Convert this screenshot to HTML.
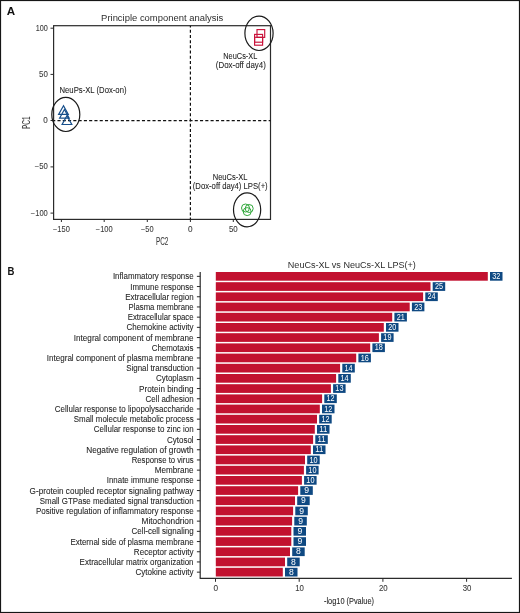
<!DOCTYPE html><html><head><meta charset="utf-8"><style>
html,body{margin:0;padding:0;background:#fff;}
svg{display:block;}
text{font-family:"Liberation Sans", sans-serif;}
.t{stroke-width:0.08px;}
.w{stroke-width:0.15px;}
</style></head><body>
<div style="will-change:transform;width:520px;height:613px">
<svg width="520" height="613" viewBox="0 0 520 613">
<rect x="0" y="0" width="520" height="613" fill="#fff"/>
<rect x="0.5" y="0.5" width="519" height="612" fill="none" stroke="#161616" stroke-width="1.2"/>
<text x="6.80" y="14.70" font-size="11.6" fill="#111" font-weight="bold">A</text>
<text x="101.10" y="20.80" font-size="9.7" fill="#2e2e2e" textLength="122.20" lengthAdjust="spacingAndGlyphs">Principle component analysis</text>
<rect x="53.6" y="25.7" width="216.9" height="193.7" fill="none" stroke="#2b2b2b" stroke-width="1.2"/>
<line x1="190.4" y1="25.7" x2="190.4" y2="219.4" stroke="#111" stroke-width="1.2" stroke-dasharray="3.0 2.22" stroke-dashoffset="1.22"/>
<line x1="53.6" y1="120.6" x2="270.5" y2="120.6" stroke="#111" stroke-width="1.2" stroke-dasharray="3.1 2.18" stroke-dashoffset="1.43"/>
<line x1="50.5" y1="28.2" x2="53.6" y2="28.2" stroke="#2b2b2b" stroke-width="1"/>
<text x="47.80" y="30.60" font-size="8.2" fill="#3a3a3a" text-anchor="end" textLength="12.10" lengthAdjust="spacingAndGlyphs" class="t" stroke="#3a3a3a">100</text>
<line x1="50.5" y1="74.4" x2="53.6" y2="74.4" stroke="#2b2b2b" stroke-width="1"/>
<text x="47.80" y="76.80" font-size="8.2" fill="#3a3a3a" text-anchor="end" textLength="8.80" lengthAdjust="spacingAndGlyphs" class="t" stroke="#3a3a3a">50</text>
<line x1="50.5" y1="120.5" x2="53.6" y2="120.5" stroke="#2b2b2b" stroke-width="1"/>
<text x="47.80" y="122.90" font-size="8.2" fill="#3a3a3a" text-anchor="end" textLength="4.50" lengthAdjust="spacingAndGlyphs" class="t" stroke="#3a3a3a">0</text>
<line x1="50.5" y1="166.9" x2="53.6" y2="166.9" stroke="#2b2b2b" stroke-width="1"/>
<text x="47.80" y="169.30" font-size="8.2" fill="#3a3a3a" text-anchor="end" textLength="13.10" lengthAdjust="spacingAndGlyphs" class="t" stroke="#3a3a3a">−50</text>
<line x1="50.5" y1="213.1" x2="53.6" y2="213.1" stroke="#2b2b2b" stroke-width="1"/>
<text x="47.80" y="215.50" font-size="8.2" fill="#3a3a3a" text-anchor="end" textLength="17.00" lengthAdjust="spacingAndGlyphs" class="t" stroke="#3a3a3a">−100</text>
<line x1="61.4" y1="219.4" x2="61.4" y2="222" stroke="#2b2b2b" stroke-width="1"/>
<text x="61.40" y="231.70" font-size="8.2" fill="#3a3a3a" text-anchor="middle" textLength="16.90" lengthAdjust="spacingAndGlyphs" class="t" stroke="#3a3a3a">−150</text>
<line x1="104.2" y1="219.4" x2="104.2" y2="222" stroke="#2b2b2b" stroke-width="1"/>
<text x="104.20" y="231.70" font-size="8.2" fill="#3a3a3a" text-anchor="middle" textLength="16.90" lengthAdjust="spacingAndGlyphs" class="t" stroke="#3a3a3a">−100</text>
<line x1="147.3" y1="219.4" x2="147.3" y2="222" stroke="#2b2b2b" stroke-width="1"/>
<text x="147.30" y="231.70" font-size="8.2" fill="#3a3a3a" text-anchor="middle" textLength="12.60" lengthAdjust="spacingAndGlyphs" class="t" stroke="#3a3a3a">−50</text>
<line x1="190.4" y1="219.4" x2="190.4" y2="222" stroke="#2b2b2b" stroke-width="1"/>
<text x="190.40" y="231.70" font-size="8.2" fill="#3a3a3a" text-anchor="middle" textLength="4.60" lengthAdjust="spacingAndGlyphs" class="t" stroke="#3a3a3a">0</text>
<line x1="233.3" y1="219.4" x2="233.3" y2="222" stroke="#2b2b2b" stroke-width="1"/>
<text x="233.30" y="231.70" font-size="8.2" fill="#3a3a3a" text-anchor="middle" textLength="8.80" lengthAdjust="spacingAndGlyphs" class="t" stroke="#3a3a3a">50</text>
<text x="162.10" y="244.80" font-size="10" fill="#3a3a3a" text-anchor="middle" textLength="12.40" lengthAdjust="spacingAndGlyphs" class="t" stroke="#3a3a3a">PC2</text>
<g transform="translate(29.9 122.7) rotate(-90)">
<text x="0.00" y="0.00" font-size="10" fill="#3a3a3a" text-anchor="middle" textLength="12.60" lengthAdjust="spacingAndGlyphs" class="t" stroke="#3a3a3a">PC1</text>
</g>
<text x="59.50" y="93.20" font-size="8.4" fill="#262626" textLength="67.00" lengthAdjust="spacingAndGlyphs" class="t" stroke="#262626">NeuPs-XL (Dox-on)</text>
<text x="223.30" y="59.20" font-size="8.4" fill="#262626" textLength="34.00" lengthAdjust="spacingAndGlyphs" class="t" stroke="#262626">NeuCs-XL</text>
<text x="215.80" y="68.20" font-size="8.4" fill="#262626" textLength="50.00" lengthAdjust="spacingAndGlyphs" class="t" stroke="#262626">(Dox-off day4)</text>
<text x="212.70" y="179.80" font-size="8.4" fill="#262626" textLength="34.90" lengthAdjust="spacingAndGlyphs" class="t" stroke="#262626">NeuCs-XL</text>
<text x="192.80" y="188.50" font-size="8.4" fill="#262626" textLength="74.90" lengthAdjust="spacingAndGlyphs" class="t" stroke="#262626">(Dox-off day4) LPS(+)</text>
<ellipse cx="65.8" cy="114.4" rx="14.0" ry="17.1" fill="none" stroke="#1a1a1a" stroke-width="1.2"/>
<ellipse cx="259.0" cy="33.3" rx="14.1" ry="17.2" fill="none" stroke="#1a1a1a" stroke-width="1.2"/>
<ellipse cx="247.1" cy="209.8" rx="13.6" ry="17.0" fill="none" stroke="#1a1a1a" stroke-width="1.2"/>
<path d="M63.5 105.7 L58.6 114.4 L68.3 114.4 Z" fill="none" stroke="#18508c" stroke-width="1.2" stroke-linejoin="miter"/>
<path d="M64.4 109.5 L59.6 118.2 L69.2 118.2 Z" fill="none" stroke="#18508c" stroke-width="1.2" stroke-linejoin="miter"/>
<path d="M66.9 115.8 L62.1 124.5 L71.8 124.5 Z" fill="none" stroke="#18508c" stroke-width="1.2" stroke-linejoin="miter"/>
<rect x="257.0" y="29.6" width="7.7" height="7.8" fill="none" stroke="#c9123a" stroke-width="1.15"/>
<rect x="254.6" y="34.4" width="8.0" height="7.8" fill="none" stroke="#c9123a" stroke-width="1.15"/>
<rect x="254.6" y="37.3" width="8.0" height="7.9" fill="none" stroke="#c9123a" stroke-width="1.15"/>
<circle cx="245.5" cy="208.0" r="4.0" fill="none" stroke="#31a83b" stroke-width="1"/>
<circle cx="249.2" cy="208.5" r="4.0" fill="none" stroke="#31a83b" stroke-width="1"/>
<circle cx="247.2" cy="211.6" r="4.0" fill="none" stroke="#31a83b" stroke-width="1"/>
<text x="7.60" y="275.40" font-size="11.6" fill="#111" textLength="6.90" lengthAdjust="spacingAndGlyphs" font-weight="bold">B</text>
<text x="287.80" y="267.60" font-size="9.7" fill="#2e2e2e" textLength="128.10" lengthAdjust="spacingAndGlyphs">NeuCs-XL vs NeuCs-XL LPS(+)</text>
<line x1="200.2" y1="272.0" x2="200.2" y2="578.3" stroke="#2b2b2b" stroke-width="1.2"/>
<line x1="199.7" y1="578.3" x2="511.9" y2="578.3" stroke="#2b2b2b" stroke-width="1.2"/>
<rect x="215.8" y="272.00" width="272.00" height="8.70" fill="#c2112f"/>
<rect x="490.00" y="272.00" width="12.5" height="8.70" fill="#0f4982"/>
<text x="496.30" y="279.00" font-size="8.6" fill="#fff" text-anchor="middle" textLength="8.10" lengthAdjust="spacingAndGlyphs">32</text>
<line x1="196.9" y1="276.35" x2="200.2" y2="276.35" stroke="#2b2b2b" stroke-width="1"/>
<text x="112.90" y="279.40" font-size="8.5" fill="#262626" textLength="80.70" lengthAdjust="spacingAndGlyphs" class="t" stroke="#262626">Inflammatory response</text>
<rect x="215.8" y="282.20" width="214.70" height="8.70" fill="#c2112f"/>
<rect x="432.70" y="282.20" width="12.5" height="8.70" fill="#0f4982"/>
<text x="439.00" y="289.20" font-size="8.6" fill="#fff" text-anchor="middle" textLength="8.10" lengthAdjust="spacingAndGlyphs">25</text>
<line x1="196.9" y1="286.55" x2="200.2" y2="286.55" stroke="#2b2b2b" stroke-width="1"/>
<text x="130.20" y="289.60" font-size="8.5" fill="#262626" textLength="63.40" lengthAdjust="spacingAndGlyphs" class="t" stroke="#262626">Immune response</text>
<rect x="215.8" y="292.40" width="207.30" height="8.70" fill="#c2112f"/>
<rect x="425.30" y="292.40" width="12.5" height="8.70" fill="#0f4982"/>
<text x="431.60" y="299.40" font-size="8.6" fill="#fff" text-anchor="middle" textLength="8.10" lengthAdjust="spacingAndGlyphs">24</text>
<line x1="196.9" y1="296.75" x2="200.2" y2="296.75" stroke="#2b2b2b" stroke-width="1"/>
<text x="125.20" y="299.80" font-size="8.5" fill="#262626" textLength="68.40" lengthAdjust="spacingAndGlyphs" class="t" stroke="#262626">Extracellular region</text>
<rect x="215.8" y="302.60" width="193.90" height="8.70" fill="#c2112f"/>
<rect x="411.90" y="302.60" width="12.5" height="8.70" fill="#0f4982"/>
<text x="418.20" y="309.60" font-size="8.6" fill="#fff" text-anchor="middle" textLength="8.10" lengthAdjust="spacingAndGlyphs">23</text>
<line x1="196.9" y1="306.95" x2="200.2" y2="306.95" stroke="#2b2b2b" stroke-width="1"/>
<text x="128.60" y="310.00" font-size="8.5" fill="#262626" textLength="65.00" lengthAdjust="spacingAndGlyphs" class="t" stroke="#262626">Plasma membrane</text>
<rect x="215.8" y="312.80" width="176.40" height="8.70" fill="#c2112f"/>
<rect x="394.40" y="312.80" width="12.5" height="8.70" fill="#0f4982"/>
<text x="400.70" y="319.80" font-size="8.6" fill="#fff" text-anchor="middle" textLength="8.10" lengthAdjust="spacingAndGlyphs">21</text>
<line x1="196.9" y1="317.15" x2="200.2" y2="317.15" stroke="#2b2b2b" stroke-width="1"/>
<text x="127.70" y="320.20" font-size="8.5" fill="#262626" textLength="65.90" lengthAdjust="spacingAndGlyphs" class="t" stroke="#262626">Extracellular space</text>
<rect x="215.8" y="323.00" width="168.00" height="8.70" fill="#c2112f"/>
<rect x="386.00" y="323.00" width="12.5" height="8.70" fill="#0f4982"/>
<text x="392.30" y="330.00" font-size="8.6" fill="#fff" text-anchor="middle" textLength="8.10" lengthAdjust="spacingAndGlyphs">20</text>
<line x1="196.9" y1="327.35" x2="200.2" y2="327.35" stroke="#2b2b2b" stroke-width="1"/>
<text x="126.50" y="330.40" font-size="8.5" fill="#262626" textLength="67.10" lengthAdjust="spacingAndGlyphs" class="t" stroke="#262626">Chemokine activity</text>
<rect x="215.8" y="333.20" width="163.10" height="8.70" fill="#c2112f"/>
<rect x="381.10" y="333.20" width="12.5" height="8.70" fill="#0f4982"/>
<text x="387.40" y="340.20" font-size="8.6" fill="#fff" text-anchor="middle" textLength="8.10" lengthAdjust="spacingAndGlyphs">19</text>
<line x1="196.9" y1="337.55" x2="200.2" y2="337.55" stroke="#2b2b2b" stroke-width="1"/>
<text x="73.80" y="340.60" font-size="8.5" fill="#262626" textLength="119.80" lengthAdjust="spacingAndGlyphs" class="t" stroke="#262626">Integral component of membrane</text>
<rect x="215.8" y="343.40" width="154.40" height="8.70" fill="#c2112f"/>
<rect x="372.40" y="343.40" width="12.5" height="8.70" fill="#0f4982"/>
<text x="378.70" y="350.40" font-size="8.6" fill="#fff" text-anchor="middle" textLength="8.10" lengthAdjust="spacingAndGlyphs">18</text>
<line x1="196.9" y1="347.75" x2="200.2" y2="347.75" stroke="#2b2b2b" stroke-width="1"/>
<text x="151.70" y="350.80" font-size="8.5" fill="#262626" textLength="41.90" lengthAdjust="spacingAndGlyphs" class="t" stroke="#262626">Chemotaxis</text>
<rect x="215.8" y="353.60" width="140.40" height="8.70" fill="#c2112f"/>
<rect x="358.40" y="353.60" width="12.5" height="8.70" fill="#0f4982"/>
<text x="364.70" y="360.60" font-size="8.6" fill="#fff" text-anchor="middle" textLength="8.10" lengthAdjust="spacingAndGlyphs">16</text>
<line x1="196.9" y1="357.95" x2="200.2" y2="357.95" stroke="#2b2b2b" stroke-width="1"/>
<text x="46.80" y="361.00" font-size="8.5" fill="#262626" textLength="146.80" lengthAdjust="spacingAndGlyphs" class="t" stroke="#262626">Integral component of plasma membrane</text>
<rect x="215.8" y="363.80" width="124.30" height="8.70" fill="#c2112f"/>
<rect x="342.30" y="363.80" width="12.5" height="8.70" fill="#0f4982"/>
<text x="348.60" y="370.80" font-size="8.6" fill="#fff" text-anchor="middle" textLength="8.10" lengthAdjust="spacingAndGlyphs">14</text>
<line x1="196.9" y1="368.15" x2="200.2" y2="368.15" stroke="#2b2b2b" stroke-width="1"/>
<text x="126.20" y="371.20" font-size="8.5" fill="#262626" textLength="67.40" lengthAdjust="spacingAndGlyphs" class="t" stroke="#262626">Signal transduction</text>
<rect x="215.8" y="374.00" width="120.30" height="8.70" fill="#c2112f"/>
<rect x="338.30" y="374.00" width="12.5" height="8.70" fill="#0f4982"/>
<text x="344.60" y="381.00" font-size="8.6" fill="#fff" text-anchor="middle" textLength="8.10" lengthAdjust="spacingAndGlyphs">14</text>
<line x1="196.9" y1="378.35" x2="200.2" y2="378.35" stroke="#2b2b2b" stroke-width="1"/>
<text x="156.00" y="381.40" font-size="8.5" fill="#262626" textLength="37.60" lengthAdjust="spacingAndGlyphs" class="t" stroke="#262626">Cytoplasm</text>
<rect x="215.8" y="384.20" width="115.10" height="8.70" fill="#c2112f"/>
<rect x="333.10" y="384.20" width="12.5" height="8.70" fill="#0f4982"/>
<text x="339.40" y="391.20" font-size="8.6" fill="#fff" text-anchor="middle" textLength="8.10" lengthAdjust="spacingAndGlyphs">13</text>
<line x1="196.9" y1="388.55" x2="200.2" y2="388.55" stroke="#2b2b2b" stroke-width="1"/>
<text x="139.10" y="391.60" font-size="8.5" fill="#262626" textLength="54.50" lengthAdjust="spacingAndGlyphs" class="t" stroke="#262626">Protein binding</text>
<rect x="215.8" y="394.40" width="106.30" height="8.70" fill="#c2112f"/>
<rect x="324.30" y="394.40" width="12.5" height="8.70" fill="#0f4982"/>
<text x="330.60" y="401.40" font-size="8.6" fill="#fff" text-anchor="middle" textLength="8.10" lengthAdjust="spacingAndGlyphs">12</text>
<line x1="196.9" y1="398.75" x2="200.2" y2="398.75" stroke="#2b2b2b" stroke-width="1"/>
<text x="145.50" y="401.80" font-size="8.5" fill="#262626" textLength="48.10" lengthAdjust="spacingAndGlyphs" class="t" stroke="#262626">Cell adhesion</text>
<rect x="215.8" y="404.60" width="104.00" height="8.70" fill="#c2112f"/>
<rect x="322.00" y="404.60" width="12.5" height="8.70" fill="#0f4982"/>
<text x="328.30" y="411.60" font-size="8.6" fill="#fff" text-anchor="middle" textLength="8.10" lengthAdjust="spacingAndGlyphs">12</text>
<line x1="196.9" y1="408.95" x2="200.2" y2="408.95" stroke="#2b2b2b" stroke-width="1"/>
<text x="54.80" y="412.00" font-size="8.5" fill="#262626" textLength="138.80" lengthAdjust="spacingAndGlyphs" class="t" stroke="#262626">Cellular response to lipopolysaccharide</text>
<rect x="215.8" y="414.80" width="101.20" height="8.70" fill="#c2112f"/>
<rect x="319.20" y="414.80" width="12.5" height="8.70" fill="#0f4982"/>
<text x="325.50" y="421.80" font-size="8.6" fill="#fff" text-anchor="middle" textLength="8.10" lengthAdjust="spacingAndGlyphs">12</text>
<line x1="196.9" y1="419.15" x2="200.2" y2="419.15" stroke="#2b2b2b" stroke-width="1"/>
<text x="73.80" y="422.20" font-size="8.5" fill="#262626" textLength="119.80" lengthAdjust="spacingAndGlyphs" class="t" stroke="#262626">Small molecule metabolic process</text>
<rect x="215.8" y="425.00" width="99.00" height="8.70" fill="#c2112f"/>
<rect x="317.00" y="425.00" width="12.5" height="8.70" fill="#0f4982"/>
<text x="323.30" y="432.00" font-size="8.6" fill="#fff" text-anchor="middle" textLength="8.10" lengthAdjust="spacingAndGlyphs">11</text>
<line x1="196.9" y1="429.35" x2="200.2" y2="429.35" stroke="#2b2b2b" stroke-width="1"/>
<text x="93.80" y="432.40" font-size="8.5" fill="#262626" textLength="99.80" lengthAdjust="spacingAndGlyphs" class="t" stroke="#262626">Cellular response to zinc ion</text>
<rect x="215.8" y="435.20" width="97.30" height="8.70" fill="#c2112f"/>
<rect x="315.30" y="435.20" width="12.5" height="8.70" fill="#0f4982"/>
<text x="321.60" y="442.20" font-size="8.6" fill="#fff" text-anchor="middle" textLength="8.10" lengthAdjust="spacingAndGlyphs">11</text>
<line x1="196.9" y1="439.55" x2="200.2" y2="439.55" stroke="#2b2b2b" stroke-width="1"/>
<text x="167.10" y="442.60" font-size="8.5" fill="#262626" textLength="26.50" lengthAdjust="spacingAndGlyphs" class="t" stroke="#262626">Cytosol</text>
<rect x="215.8" y="445.40" width="95.00" height="8.70" fill="#c2112f"/>
<rect x="313.00" y="445.40" width="12.5" height="8.70" fill="#0f4982"/>
<text x="319.30" y="452.40" font-size="8.6" fill="#fff" text-anchor="middle" textLength="8.10" lengthAdjust="spacingAndGlyphs">11</text>
<line x1="196.9" y1="449.75" x2="200.2" y2="449.75" stroke="#2b2b2b" stroke-width="1"/>
<text x="86.20" y="452.80" font-size="8.5" fill="#262626" textLength="107.40" lengthAdjust="spacingAndGlyphs" class="t" stroke="#262626">Negative regulation of growth</text>
<rect x="215.8" y="455.60" width="89.20" height="8.70" fill="#c2112f"/>
<rect x="307.20" y="455.60" width="12.5" height="8.70" fill="#0f4982"/>
<text x="313.50" y="462.60" font-size="8.6" fill="#fff" text-anchor="middle" textLength="8.10" lengthAdjust="spacingAndGlyphs">10</text>
<line x1="196.9" y1="459.95" x2="200.2" y2="459.95" stroke="#2b2b2b" stroke-width="1"/>
<text x="131.70" y="463.00" font-size="8.5" fill="#262626" textLength="61.90" lengthAdjust="spacingAndGlyphs" class="t" stroke="#262626">Response to virus</text>
<rect x="215.8" y="465.80" width="88.10" height="8.70" fill="#c2112f"/>
<rect x="306.10" y="465.80" width="12.5" height="8.70" fill="#0f4982"/>
<text x="312.40" y="472.80" font-size="8.6" fill="#fff" text-anchor="middle" textLength="8.10" lengthAdjust="spacingAndGlyphs">10</text>
<line x1="196.9" y1="470.15" x2="200.2" y2="470.15" stroke="#2b2b2b" stroke-width="1"/>
<text x="154.80" y="473.20" font-size="8.5" fill="#262626" textLength="38.80" lengthAdjust="spacingAndGlyphs" class="t" stroke="#262626">Membrane</text>
<rect x="215.8" y="476.00" width="86.10" height="8.70" fill="#c2112f"/>
<rect x="304.10" y="476.00" width="12.5" height="8.70" fill="#0f4982"/>
<text x="310.40" y="483.00" font-size="8.6" fill="#fff" text-anchor="middle" textLength="8.10" lengthAdjust="spacingAndGlyphs">10</text>
<line x1="196.9" y1="480.35" x2="200.2" y2="480.35" stroke="#2b2b2b" stroke-width="1"/>
<text x="106.80" y="483.40" font-size="8.5" fill="#262626" textLength="86.80" lengthAdjust="spacingAndGlyphs" class="t" stroke="#262626">Innate immune response</text>
<rect x="215.8" y="486.20" width="82.30" height="8.70" fill="#c2112f"/>
<rect x="300.30" y="486.20" width="12.5" height="8.70" fill="#0f4982"/>
<text x="306.60" y="493.20" font-size="8.6" fill="#fff" text-anchor="middle">9</text>
<line x1="196.9" y1="490.55" x2="200.2" y2="490.55" stroke="#2b2b2b" stroke-width="1"/>
<text x="29.60" y="493.60" font-size="8.5" fill="#262626" textLength="164.00" lengthAdjust="spacingAndGlyphs" class="t" stroke="#262626">G-protein coupled receptor signaling pathway</text>
<rect x="215.8" y="496.40" width="79.20" height="8.70" fill="#c2112f"/>
<rect x="297.20" y="496.40" width="12.5" height="8.70" fill="#0f4982"/>
<text x="303.50" y="503.40" font-size="8.6" fill="#fff" text-anchor="middle">9</text>
<line x1="196.9" y1="500.75" x2="200.2" y2="500.75" stroke="#2b2b2b" stroke-width="1"/>
<text x="39.80" y="503.80" font-size="8.5" fill="#262626" textLength="153.80" lengthAdjust="spacingAndGlyphs" class="t" stroke="#262626">Small GTPase mediated signal transduction</text>
<rect x="215.8" y="506.60" width="77.30" height="8.70" fill="#c2112f"/>
<rect x="295.30" y="506.60" width="12.5" height="8.70" fill="#0f4982"/>
<text x="301.60" y="513.60" font-size="8.6" fill="#fff" text-anchor="middle">9</text>
<line x1="196.9" y1="510.95" x2="200.2" y2="510.95" stroke="#2b2b2b" stroke-width="1"/>
<text x="36.00" y="514.00" font-size="8.5" fill="#262626" textLength="157.60" lengthAdjust="spacingAndGlyphs" class="t" stroke="#262626">Positive regulation of inflammatory response</text>
<rect x="215.8" y="516.80" width="76.30" height="8.70" fill="#c2112f"/>
<rect x="294.30" y="516.80" width="12.5" height="8.70" fill="#0f4982"/>
<text x="300.60" y="523.80" font-size="8.6" fill="#fff" text-anchor="middle">9</text>
<line x1="196.9" y1="521.15" x2="200.2" y2="521.15" stroke="#2b2b2b" stroke-width="1"/>
<text x="141.50" y="524.20" font-size="8.5" fill="#262626" textLength="52.10" lengthAdjust="spacingAndGlyphs" class="t" stroke="#262626">Mitochondrion</text>
<rect x="215.8" y="527.00" width="75.50" height="8.70" fill="#c2112f"/>
<rect x="293.50" y="527.00" width="12.5" height="8.70" fill="#0f4982"/>
<text x="299.80" y="534.00" font-size="8.6" fill="#fff" text-anchor="middle">9</text>
<line x1="196.9" y1="531.35" x2="200.2" y2="531.35" stroke="#2b2b2b" stroke-width="1"/>
<text x="131.50" y="534.40" font-size="8.5" fill="#262626" textLength="62.10" lengthAdjust="spacingAndGlyphs" class="t" stroke="#262626">Cell-cell signaling</text>
<rect x="215.8" y="537.20" width="75.50" height="8.70" fill="#c2112f"/>
<rect x="293.50" y="537.20" width="12.5" height="8.70" fill="#0f4982"/>
<text x="299.80" y="544.20" font-size="8.6" fill="#fff" text-anchor="middle">9</text>
<line x1="196.9" y1="541.55" x2="200.2" y2="541.55" stroke="#2b2b2b" stroke-width="1"/>
<text x="70.40" y="544.60" font-size="8.5" fill="#262626" textLength="123.20" lengthAdjust="spacingAndGlyphs" class="t" stroke="#262626">External side of plasma membrane</text>
<rect x="215.8" y="547.40" width="74.20" height="8.70" fill="#c2112f"/>
<rect x="292.20" y="547.40" width="12.5" height="8.70" fill="#0f4982"/>
<text x="298.50" y="554.40" font-size="8.6" fill="#fff" text-anchor="middle">8</text>
<line x1="196.9" y1="551.75" x2="200.2" y2="551.75" stroke="#2b2b2b" stroke-width="1"/>
<text x="133.80" y="554.80" font-size="8.5" fill="#262626" textLength="59.80" lengthAdjust="spacingAndGlyphs" class="t" stroke="#262626">Receptor activity</text>
<rect x="215.8" y="557.60" width="69.20" height="8.70" fill="#c2112f"/>
<rect x="287.20" y="557.60" width="12.5" height="8.70" fill="#0f4982"/>
<text x="293.50" y="564.60" font-size="8.6" fill="#fff" text-anchor="middle">8</text>
<line x1="196.9" y1="561.95" x2="200.2" y2="561.95" stroke="#2b2b2b" stroke-width="1"/>
<text x="79.60" y="565.00" font-size="8.5" fill="#262626" textLength="114.00" lengthAdjust="spacingAndGlyphs" class="t" stroke="#262626">Extracellular matrix organization</text>
<rect x="215.8" y="567.80" width="67.00" height="8.70" fill="#c2112f"/>
<rect x="285.00" y="567.80" width="12.5" height="8.70" fill="#0f4982"/>
<text x="291.30" y="574.80" font-size="8.6" fill="#fff" text-anchor="middle">8</text>
<line x1="196.9" y1="572.15" x2="200.2" y2="572.15" stroke="#2b2b2b" stroke-width="1"/>
<text x="135.40" y="575.20" font-size="8.5" fill="#262626" textLength="58.20" lengthAdjust="spacingAndGlyphs" class="t" stroke="#262626">Cytokine activity</text>
<line x1="215.5" y1="578.3" x2="215.5" y2="581.8" stroke="#2b2b2b" stroke-width="1"/>
<text x="215.90" y="591.00" font-size="8.2" fill="#3a3a3a" text-anchor="middle" textLength="4.60" lengthAdjust="spacingAndGlyphs" class="t" stroke="#3a3a3a">0</text>
<line x1="299.2" y1="578.3" x2="299.2" y2="581.8" stroke="#2b2b2b" stroke-width="1"/>
<text x="299.60" y="591.00" font-size="8.2" fill="#3a3a3a" text-anchor="middle" textLength="8.70" lengthAdjust="spacingAndGlyphs" class="t" stroke="#3a3a3a">10</text>
<line x1="382.9" y1="578.3" x2="382.9" y2="581.8" stroke="#2b2b2b" stroke-width="1"/>
<text x="383.30" y="591.00" font-size="8.2" fill="#3a3a3a" text-anchor="middle" textLength="8.70" lengthAdjust="spacingAndGlyphs" class="t" stroke="#3a3a3a">20</text>
<line x1="466.6" y1="578.3" x2="466.6" y2="581.8" stroke="#2b2b2b" stroke-width="1"/>
<text x="467.00" y="591.00" font-size="8.2" fill="#3a3a3a" text-anchor="middle" textLength="8.70" lengthAdjust="spacingAndGlyphs" class="t" stroke="#3a3a3a">30</text>
<text x="324.00" y="604.10" font-size="8.3" fill="#262626" textLength="50.00" lengthAdjust="spacingAndGlyphs" class="t" stroke="#262626">-log10 (Pvalue)</text>
</svg></div></body></html>
